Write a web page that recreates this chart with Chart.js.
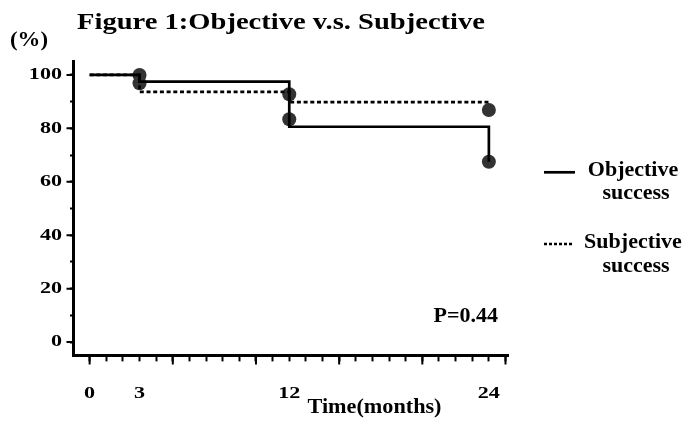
<!DOCTYPE html>
<html><head><meta charset="utf-8">
<script src="https://cdn.jsdelivr.net/npm/chart.js@4.4.1/dist/chart.umd.min.js"></script>
<style>html,body{margin:0;padding:0;background:#fff;overflow:hidden;}</style>
</head><body>
<canvas id="c" width="691" height="421"></canvas>
<script>
// ---- data ----
const months = [0, 3, 12, 24];
const objectiveSuccess = [100, 97.5, 80.6, 67.5];
const subjectiveSuccess = [100, 93.7, 89.8, 89.8];
const markerMonths = [3, 3, 12, 12, 24, 24];
const markerValues = [100, 96.9, 92.8, 83.4, 86.9, 67.5];
const xTickValues = [0,1,2,3,4,5,6,7,8,9,10,11,12,13,14,15,16,17,18,19,20,21,22,23,24,25];
const xLabelValues = [0, 3, 12, 24];
const xMajorTicks = [0, 5, 10, 15, 20, 25];
const yTickValues = [0,10,20,30,40,50,60,70,80,90,100];
const yLabelValues = [0, 20, 40, 60, 80, 100];
const titleText = 'Figure 1:Objective v.s. Subjective';
const yUnitText = '(%)';
const xTitleText = 'Time(months)';
const pText = 'P=0.44';
const legendLines = [['Objective', 'success'], ['Subjective', 'success']];

const FONT = '"Liberation Serif", "Times New Roman", serif';
const TICK_STRETCH = 1.3;

function stretchText(ctx, s, x, y, size, sx, align) {
  ctx.save();
  ctx.font = 'bold ' + size + 'px ' + FONT;
  ctx.fillStyle = '#000';
  ctx.textAlign = align;
  ctx.textBaseline = 'alphabetic';
  ctx.translate(x, y);
  ctx.scale(sx, 1);
  ctx.fillText(s, 0, 0);
  ctx.restore();
}

const decor = {
  id: 'decor',
  beforeDraw(chart) {
    const ctx = chart.ctx;
    const orig = CanvasRenderingContext2D.prototype.fillText;
    ctx.fillText = function (t, x, y, mw) {
      this.save();
      this.translate(x, y);
      this.scale(TICK_STRETCH, 1);
      if (mw === undefined || mw === null) orig.call(this, t, 0, 0);
      else orig.call(this, t, 0, 0, mw / TICK_STRETCH);
      this.restore();
    };
  },
  afterDraw(chart) {
    const ctx = chart.ctx;
    delete ctx.fillText;
    const xs = chart.scales.x, ys = chart.scales.y, ca = chart.chartArea;
    // major ticks
    ctx.save();
    ctx.strokeStyle = '#000';
    ctx.lineWidth = 2;
    ctx.beginPath();
    xMajorTicks.forEach(v => {
      const px = xs.getPixelForValue(v);
      ctx.moveTo(px, ca.bottom); ctx.lineTo(px, ca.bottom + 9);
    });
    yLabelValues.forEach(v => {
      const py = ys.getPixelForValue(v);
      ctx.moveTo(ca.left - 6.5, py); ctx.lineTo(ca.left, py);
    });
    ctx.stroke();
    ctx.restore();

    // texts
    stretchText(ctx, titleText, 77, 29.3, 24, 1.19, 'left');
    stretchText(ctx, yUnitText, 10, 45.5, 20, 1.14, 'left');
    stretchText(ctx, xTitleText, 374.5, 413.3, 20, 1.11, 'center');
    stretchText(ctx, pText, 433.5, 321.5, 22, 1.0, 'left');

    // legend
    stretchText(ctx, legendLines[0][0], 633, 175.7, 22, 1.0, 'center');
    stretchText(ctx, legendLines[0][1], 636, 199.3, 22, 1.0, 'center');
    stretchText(ctx, legendLines[1][0], 633, 248.3, 22, 1.0, 'center');
    stretchText(ctx, legendLines[1][1], 636, 271.7, 22, 1.0, 'center');
    ctx.save();
    ctx.strokeStyle = '#000';
    ctx.lineWidth = 2.7;
    ctx.beginPath(); ctx.moveTo(544, 172.3); ctx.lineTo(575, 172.3); ctx.stroke();
    ctx.setLineDash([3, 2]);
    ctx.beginPath(); ctx.moveTo(544, 244); ctx.lineTo(574, 244); ctx.stroke();
    ctx.restore();
  }
};

const tickFont = { family: FONT, weight: 'bold', size: 17 };

new Chart(document.getElementById('c'), {
  type: 'scatter',
  data: {
    datasets: [
      {
        label: 'Objective success',
        data: months.map((m, i) => ({ x: m, y: objectiveSuccess[i] })),
        showLine: true, stepped: 'before',
        borderColor: '#000', borderWidth: 2.7,
        pointRadius: 0, fill: false
      },
      {
        label: 'Subjective success',
        data: months.map((m, i) => ({ x: m, y: subjectiveSuccess[i] })),
        showLine: true, stepped: 'before',
        borderColor: '#000', borderWidth: 2.7, borderDash: [4, 2.7],
        pointRadius: 0, fill: false
      },
      {
        label: 'markers',
        data: markerMonths.map((m, i) => ({ x: m, y: markerValues[i] })),
        showLine: false,
        pointRadius: 7, pointBackgroundColor: '#333', pointBorderWidth: 0,
        pointBorderColor: '#333'
      }
    ]
  },
  options: {
    responsive: false,
    animation: false,
    events: [],
    devicePixelRatio: 1,
    layout: { padding: { left: 0, top: 61.6, right: 183, bottom: 0 } },
    plugins: { legend: { display: false }, tooltip: { enabled: false }, title: { display: false } },
    scales: {
      x: {
        type: 'linear', min: -1, max: 25.15,
        afterBuildTicks: s => { s.ticks = xTickValues.map(v => ({ value: v })); },
        afterFit: s => { s.height = 421 - 355.4; },
        ticks: {
          autoSkip: false, maxRotation: 0, minRotation: 0,
          callback: v => xLabelValues.includes(v) ? String(v) : '',
          font: tickFont, color: '#000', padding: 22
        },
        grid: { drawOnChartArea: false, drawTicks: true, tickLength: 6, tickWidth: 2, tickColor: '#000' },
        border: { display: true, color: '#000', width: 3 }
      },
      y: {
        type: 'linear', min: -5, max: 105,
        afterBuildTicks: s => { s.ticks = yTickValues.map(v => ({ value: v })); },
        afterFit: s => { s.width = 73; },
        ticks: {
          autoSkip: false,
          callback: v => yLabelValues.includes(v) ? String(v) : '',
          font: tickFont, color: '#000', padding: 8
        },
        grid: { drawOnChartArea: false, drawTicks: true, tickLength: 3, tickWidth: 2, tickColor: '#000' },
        border: { display: true, color: '#000', width: 3 }
      }
    }
  },
  plugins: [decor]
});
</script>
</body></html>
